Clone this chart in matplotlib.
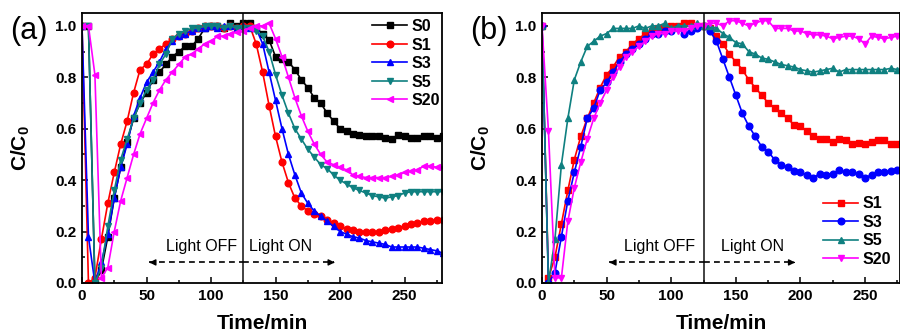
import numpy as np
import matplotlib
matplotlib.use("Agg")
import matplotlib.pyplot as plt

plt.rcParams['font.family'] = ['Liberation Sans', 'DejaVu Sans']
plt.rcParams['mathtext.fontset'] = 'custom'
plt.rcParams['mathtext.bf'] = 'Liberation Sans:bold'
plt.rcParams['mathtext.rm'] = 'Liberation Sans'

# common time grid (min)
time = list(range(0, 281, 5))

# ---- panel (a) ----
a_S0 = [1.0, 1.0, 0.0, 0.05, 0.18, 0.33, 0.45, 0.55, 0.64, 0.70,
        0.74, 0.79, 0.82, 0.85, 0.88, 0.90, 0.92, 0.92, 0.95, 0.99,
        1.0, 1.0, 0.99, 1.01, 1.0, 1.01, 1.01, 0.99, 0.97, 0.945,
        0.88, 0.87, 0.86, 0.83, 0.79, 0.76, 0.72, 0.70, 0.66, 0.63,
        0.60, 0.59, 0.58, 0.575, 0.57, 0.57, 0.57, 0.565, 0.56, 0.575,
        0.57, 0.565, 0.565, 0.57, 0.57, 0.565, 0.57]
a_S1 = [1.0, 0.0, 0.02, 0.17, 0.31, 0.43, 0.54, 0.63, 0.74, 0.83,
        0.85, 0.89, 0.91, 0.93, 0.95, 0.96, 0.97, 0.98, 0.99, 1.0,
        1.0, 1.0, 0.99, 1.0, 0.99, 1.0, 1.0, 0.93, 0.82, 0.69,
        0.57, 0.47, 0.39, 0.33, 0.30, 0.28, 0.27, 0.26, 0.245, 0.235,
        0.22, 0.21, 0.205, 0.20, 0.20, 0.198, 0.20, 0.205, 0.21, 0.215,
        0.22, 0.23, 0.235, 0.24, 0.24, 0.245, 0.245]
a_S3 = [1.0, 0.18, 0.0, 0.08, 0.19, 0.33, 0.45, 0.54, 0.65, 0.72,
        0.78, 0.82, 0.86, 0.91, 0.94, 0.96, 0.97, 0.98, 0.99, 0.99,
        1.0, 0.99, 1.0, 1.0, 0.99, 1.0, 0.99, 0.99, 0.93, 0.82,
        0.71, 0.60, 0.50, 0.42, 0.35, 0.31, 0.28, 0.26, 0.24, 0.22,
        0.20, 0.19, 0.18, 0.175, 0.165, 0.16, 0.155, 0.15, 0.14, 0.14,
        0.14, 0.14, 0.14, 0.135, 0.13, 0.125, 0.115]
a_S5 = [1.0, 1.0, 0.0, 0.06, 0.22, 0.36, 0.48, 0.56, 0.64, 0.70,
        0.75, 0.79, 0.85, 0.89, 0.95, 0.97, 0.98, 0.99, 0.99, 1.0,
        1.0, 1.0, 0.99, 1.0, 0.99, 0.99, 0.99, 0.98, 0.96, 0.90,
        0.81, 0.73, 0.66, 0.60, 0.56, 0.52, 0.49, 0.46, 0.445, 0.42,
        0.40, 0.385, 0.37, 0.36, 0.35, 0.34, 0.335, 0.33, 0.335, 0.34,
        0.35, 0.355, 0.355, 0.355, 0.355, 0.355, 0.355]
a_S20 = [1.0, 1.0, 0.81, 0.02, 0.06, 0.20, 0.32, 0.41, 0.50, 0.58,
         0.64, 0.70, 0.75, 0.79, 0.82, 0.85, 0.88, 0.89, 0.91, 0.93,
         0.94, 0.96, 0.96, 0.97, 0.975, 0.98, 0.99, 1.0, 1.0, 1.01,
         0.95, 0.88, 0.80, 0.72, 0.65, 0.59, 0.54, 0.50, 0.47, 0.46,
         0.45, 0.44, 0.42, 0.415, 0.41, 0.41, 0.41, 0.41, 0.415, 0.42,
         0.43, 0.435, 0.44, 0.455, 0.455, 0.45, 0.45]

# ---- panel (b) ----
b_S1 = [1.0, 0.02, 0.10, 0.23, 0.36, 0.48, 0.57, 0.64, 0.70, 0.76,
        0.81, 0.84, 0.88, 0.90, 0.93, 0.95, 0.97, 0.98, 0.99, 0.99,
        1.0, 1.0, 1.01, 1.01, 1.0, 1.0, 0.99, 0.96, 0.93, 0.89,
        0.86, 0.83, 0.79, 0.76, 0.73, 0.70, 0.68, 0.66, 0.64, 0.615,
        0.61, 0.59, 0.57, 0.56, 0.56, 0.55, 0.56, 0.555, 0.54, 0.545,
        0.54, 0.55, 0.555, 0.555, 0.54, 0.54, 0.545]
b_S3 = [1.0, 0.0, 0.04, 0.18, 0.32, 0.43, 0.53, 0.64, 0.68, 0.75,
        0.78, 0.82, 0.86, 0.89, 0.91, 0.93, 0.95, 0.97, 0.97, 0.98,
        0.98, 0.99, 0.97, 0.98, 0.99, 1.0, 0.98, 0.94, 0.87, 0.80,
        0.73, 0.66, 0.61, 0.57, 0.53, 0.51, 0.48, 0.46, 0.45, 0.435,
        0.43, 0.42, 0.41, 0.425, 0.42, 0.425, 0.44, 0.43, 0.43, 0.425,
        0.41, 0.42, 0.43, 0.43, 0.435, 0.44, 0.43]
b_S5 = [1.0, 0.0, 0.17, 0.46, 0.64, 0.79, 0.86, 0.92, 0.94, 0.96,
        0.97, 0.99, 0.99, 0.99, 0.99, 1.0, 0.99, 1.0, 1.0, 1.01,
        0.99, 1.0, 1.0, 1.0, 1.01, 1.0, 1.0, 0.99, 0.97, 0.955,
        0.935, 0.93, 0.90, 0.89, 0.875, 0.87, 0.86, 0.85, 0.845, 0.84,
        0.83, 0.825, 0.82, 0.825, 0.83, 0.835, 0.82, 0.83, 0.83, 0.83,
        0.83, 0.83, 0.83, 0.83, 0.835, 0.83, 0.835]
b_S20 = [1.0, 0.59, 0.02, 0.02, 0.24, 0.37, 0.47, 0.56, 0.64, 0.70,
         0.75, 0.80, 0.84, 0.88, 0.90, 0.92, 0.94, 0.96, 0.97, 0.97,
         0.98, 0.98, 0.98, 0.99, 1.0, 1.0, 1.01, 1.01, 1.0, 1.02,
         1.02, 1.01, 1.0, 1.01, 1.02, 1.02, 0.99, 0.99, 0.99, 0.98,
         0.98, 0.97, 0.965, 0.965, 0.96, 0.95, 0.955, 0.96, 0.96, 0.95,
         0.93, 0.96, 0.955, 0.95, 0.955, 0.96, 0.96]

labels_a = ['S0', 'S1', 'S3', 'S5', 'S20']
labels_b = ['S1', 'S3', 'S5', 'S20']

TEAL = '#0f8080'
fig = plt.figure(figsize=(9, 3.33), dpi=100)
W, H = 900, 333
ax_a = fig.add_axes([82 / W, 50 / H, 360 / W, 270 / H])
ax_b = fig.add_axes([542 / W, 50 / H, 358 / W, 270 / H])

series_a = [(a_S0, 'black', 's'), (a_S1, 'red', 'o'), (a_S3, 'blue', '^'),
            (a_S5, TEAL, 'v'), (a_S20, 'magenta', '<')]
series_b = [(b_S1, 'red', 's'), (b_S3, 'blue', 'o'), (b_S5, TEAL, '^'),
            (b_S20, 'magenta', 'v')]

for ax, series, labels, xmax in [(ax_a, series_a, labels_a, 279), (ax_b, series_b, labels_b, 277)]:
    for (vals, c, m), lab in zip(series, labels):
        ax.plot(time, vals, color=c, marker=m, markersize=4.8, lw=1.2, label=lab)
    ax.set_xlim(0, xmax)
    ax.set_ylim(0, 1.05)
    ax.axvline(125, color='#222222', lw=1.2)
    ax.set_xticks([0, 50, 100, 150, 200, 250])
    ax.set_xticks([25, 75, 125, 175, 225, 275], minor=True)
    ax.set_yticks([0.0, 0.2, 0.4, 0.6, 0.8, 1.0])
    ax.set_yticks([0.1, 0.3, 0.5, 0.7, 0.9], minor=True)
    ax.set_yticklabels(['0.0', '0.2', '0.4', '0.6', '0.8', '1.0'])
    ax.tick_params(which='both', direction='in', top=False, right=False, width=1.1)
    ax.tick_params(which='major', length=4, labelsize=11, pad=4)
    ax.tick_params(which='minor', length=2.5)
    for lab in ax.get_xticklabels() + ax.get_yticklabels():
        lab.set_fontweight('bold')
    for sp in ax.spines.values():
        sp.set_linewidth(1.3)
    ax.set_xlabel('Time/min', fontsize=15, fontweight='bold', va='top')
    ax.xaxis.set_label_coords(0.5, -0.115)
    ax.set_ylabel(r'$\mathbf{C/C_0}$', fontsize=15)
    ax.yaxis.set_label_coords(-0.14, 0.5)
    # light annotations
    ax.plot([52, 125], [0.08, 0.08], color='black', lw=1.2, dashes=(3.5, 2.5))
    ax.plot([125, 195], [0.08, 0.08], color='black', lw=1.2, dashes=(3.5, 2.5))
    ax.annotate('', xy=(50, 0.08), xytext=(56, 0.08),
                arrowprops=dict(arrowstyle='-|>', color='black', lw=1.0, mutation_scale=9))
    ax.annotate('', xy=(198, 0.08), xytext=(192, 0.08),
                arrowprops=dict(arrowstyle='-|>', color='black', lw=1.0, mutation_scale=9))

ax_a.text(93, 0.143, 'Light OFF', fontsize=11.5, ha='center', va='center')
ax_a.text(154, 0.143, 'Light ON', fontsize=11.5, ha='center', va='center')
ax_b.text(91, 0.143, 'Light OFF', fontsize=11.5, ha='center', va='center')
ax_b.text(163, 0.143, 'Light ON', fontsize=11.5, ha='center', va='center')

leg_kw = dict(frameon=False, prop={'weight': 'bold', 'size': 11.5}, handlelength=2.2,
              handletextpad=0.3, labelspacing=0.22, borderpad=0, borderaxespad=0)
ax_a.legend(loc='upper left', bbox_to_anchor=((372 - 82) / 360, (283 - 19) / 270), **leg_kw)
ax_b.legend(loc='lower left', bbox_to_anchor=((823 - 542) / 358, (283 - 267) / 270), **leg_kw)

fig.text(10 / W, 1 - 31 / H, '(a)', fontsize=22, va='center', ha='left')
fig.text(470 / W, 1 - 31 / H, '(b)', fontsize=22, va='center', ha='left')

fig.savefig('out.png', dpi=100)
